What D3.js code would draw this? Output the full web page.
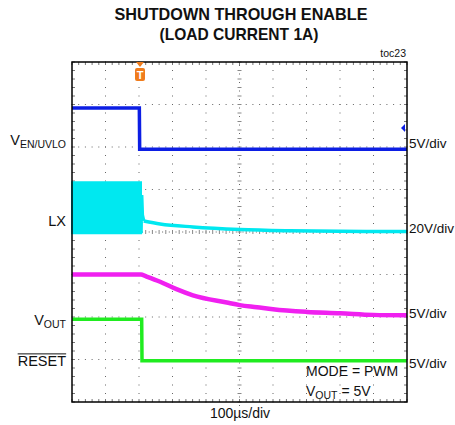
<!DOCTYPE html>
<html><head><meta charset="utf-8">
<script src="https://cdn.jsdelivr.net/npm/d3@7"></script>
<style>
body{margin:0;background:#fff;}
text{font-family:"Liberation Sans",Arial,sans-serif;fill:#111;}
</style></head>
<body><svg id="c" width="455" height="425"></svg>
<script>
// ---- data (time in µs, level in screen divisions, 0 = centre line) ----
const timeDomain = [0, 1000];
const divDomain = [-4, 4];
const enTrace = [[0, 2.92], [201, 2.92], [202, 1.95], [1000, 1.95]];
const lxBurst = [[0, 1.17], [206, 1.17]];           // switching envelope top
const lxBurstLow = -0.03;
const lxTail = [[206, -0.03], [208, 0.87], [210, 0.4], [214, 0.26], [263, 0.19], [361, 0.12], [501, 0.06], [650, 0.03], [800, 0.015], [1000, 0.01]];
const voutTrace = [[0, -1.0], [206, -1.0], [220, -1.04], [263, -1.17], [310, -1.34], [361, -1.49], [462, -1.66], [501, -1.72], [552, -1.77], [600, -1.82], [701, -1.88], [800, -1.91], [899, -1.95], [1000, -1.96]];
const resetTrace = [[0, -2.05], [208, -2.05], [209, -3.03], [1000, -3.03]];
const triggerTime = 203;
const enMarkerLevel = 2.45;
const leftLabels = [{main: "V", sub: "EN/UVLO", level: 2.05}, {main: "LX", sub: "", level: 0.15}, {main: "V", sub: "OUT", level: -2.18}, {main: "RESET", sub: "", level: -3.15, over: true}];
const rightLabels = [{t: "5V/div", level: 1.98}, {t: "20V/div", level: -0.02}, {t: "5V/div", level: -2.03}, {t: "5V/div", level: -3.2}];
const colors = {en: "#0c1ee4", lx: "#00e8f0", vout: "#f020f0", reset: "#20ec20", trig: "#f07c1c"};

const svg = d3.select("#c");
const x = d3.scaleLinear().domain(timeDomain).range([72, 407]);
const y = d3.scaleLinear().domain(divDomain).range([402, 62]);

// title
svg.append("text").attr("x", 241).attr("y", 20).attr("text-anchor", "middle")
  .attr("font-size", 17).attr("font-weight", "bold").attr("textLength", 253).attr("lengthAdjust", "spacingAndGlyphs")
  .text("SHUTDOWN THROUGH ENABLE");
svg.append("text").attr("x", 239).attr("y", 40).attr("text-anchor", "middle")
  .attr("font-size", 17).attr("font-weight", "bold").attr("textLength", 159).attr("lengthAdjust", "spacingAndGlyphs")
  .text("(LOAD CURRENT 1A)");
svg.append("text").attr("x", 406).attr("y", 57).attr("text-anchor", "end").attr("font-size", 10.5).text("toc23");

// grid
const g = svg.append("g");
const majorT = d3.range(100, 1000, 100);
const majorD = d3.range(-3, 4, 1);
const minorT = d3.range(0, 1000.1, 20);
const minorD = d3.range(-4, 4.01, 0.2);
majorT.forEach(t => {
  if (t === 500) return;
  minorD.forEach(d => g.append("rect").attr("x", x(t) - 0.5).attr("y", y(d) - 0.5).attr("width", 1).attr("height", 1).attr("fill", "#666"));
});
majorD.forEach(d => {
  if (d === 0) return;
  minorT.forEach(t => g.append("rect").attr("x", x(t) - 0.5).attr("y", y(d) - 0.5).attr("width", 1).attr("height", 1).attr("fill", "#666"));
});
// centre lines with ticks
minorD.forEach(d => g.append("line").attr("x1", x(500) - 2).attr("x2", x(500) + 2).attr("y1", y(d)).attr("y2", y(d)).attr("stroke", "#888").attr("stroke-width", 1));
minorT.forEach(t => g.append("line").attr("x1", x(t)).attr("x2", x(t)).attr("y1", y(0) - 2).attr("y2", y(0) + 2).attr("stroke", "#888").attr("stroke-width", 1));
minorT.forEach(t => g.append("rect").attr("x", x(t) + 3).attr("y", y(0) - 0.5).attr("width", 1).attr("height", 1).attr("fill", "#666"));
minorD.forEach(d => g.append("rect").attr("x", x(500) - 0.5).attr("y", y(d) + 3).attr("width", 1).attr("height", 1).attr("fill", "#666"));
// edge ticks
minorT.forEach(t => {
  g.append("line").attr("x1", x(t)).attr("x2", x(t)).attr("y1", y(4)).attr("y2", y(4) + 3).attr("stroke", "#777");
  g.append("line").attr("x1", x(t)).attr("x2", x(t)).attr("y1", y(-4)).attr("y2", y(-4) - 3).attr("stroke", "#777");
});
minorD.forEach(d => {
  g.append("line").attr("x1", x(0)).attr("x2", x(0) + 3).attr("y1", y(d)).attr("y2", y(d)).attr("stroke", "#777");
  g.append("line").attr("x1", x(1000)).attr("x2", x(1000) - 3).attr("y1", y(d)).attr("y2", y(d)).attr("stroke", "#777");
});

// traces
const line = d3.line().x(d => x(d[0])).y(d => y(d[1]));
const smooth = d3.line().x(d => x(d[0])).y(d => y(d[1])).curve(d3.curveMonotoneX);
const area = d3.area().x(d => x(d[0])).y0(y(lxBurstLow)).y1(d => y(d[1]));
svg.append("path").attr("d", area(lxBurst)).attr("fill", colors.lx).attr("stroke", colors.lx).attr("stroke-width", 2);
svg.append("path").attr("d", line(lxTail.slice(0, 4)) ).attr("fill", "none").attr("stroke", colors.lx).attr("stroke-width", 3.5);
svg.append("path").attr("d", smooth(lxTail.slice(3))).attr("fill", "none").attr("stroke", colors.lx).attr("stroke-width", 3.5);
svg.append("path").attr("d", line(enTrace)).attr("fill", "none").attr("stroke", colors.en).attr("stroke-width", 3.5);
svg.append("path").attr("d", smooth(voutTrace)).attr("fill", "none").attr("stroke", colors.vout).attr("stroke-width", 4.5);
svg.append("path").attr("d", line(resetTrace)).attr("fill", "none").attr("stroke", colors.reset).attr("stroke-width", 3.5);

// frame
svg.append("rect").attr("x", x(0)).attr("y", y(4)).attr("width", x(1000) - x(0)).attr("height", y(-4) - y(4))
  .attr("fill", "none").attr("stroke", "#000").attr("stroke-width", 1.5);

// trigger marker
const tx = x(triggerTime);
svg.append("path").attr("d", `M${tx - 4},${y(4)} L${tx + 4},${y(4)} L${tx},${y(4) + 5} Z`).attr("fill", colors.trig);
svg.append("rect").attr("x", tx - 5).attr("y", y(4) + 6).attr("width", 10).attr("height", 13).attr("rx", 2).attr("fill", colors.trig);
svg.append("text").attr("x", tx).attr("y", y(4) + 17).attr("text-anchor", "middle").attr("font-size", 11).attr("font-weight", "bold")
  .style("fill", "#fff").text("T");
// EN ground marker
const my = y(enMarkerLevel);
svg.append("path").attr("d", `M${x(1000) - 6},${my} L${x(1000) - 2},${my - 4} L${x(1000) - 2},${my + 4} Z`).attr("fill", colors.en);

// left labels
leftLabels.forEach(l => {
  const t = svg.append("text").attr("x", 66).attr("y", y(l.level)).attr("text-anchor", "end").attr("font-size", 14.5);
  t.append("tspan").text(l.main);
  if (l.sub) t.append("tspan").attr("dy", 3).attr("font-size", 10.5).text(l.sub);
  if (l.over) {
    const bb = t.node().getBBox();
    svg.append("line").attr("x1", bb.x).attr("x2", bb.x + bb.width).attr("y1", bb.y + 1).attr("y2", bb.y + 1).attr("stroke", "#111").attr("stroke-width", 1);
  }
});
// right labels
rightLabels.forEach(l => {
  svg.append("text").attr("x", 409).attr("y", y(l.level)).attr("font-size", 13.5).text(l.t);
});

// annotations
svg.append("text").attr("x", 306).attr("y", 376).attr("font-size", 14).text("MODE = PWM");
const vt = svg.append("text").attr("x", 306).attr("y", 396).attr("font-size", 14);
vt.append("tspan").text("V");
vt.append("tspan").attr("dy", 3).attr("font-size", 10.5).text("OUT");
vt.append("tspan").attr("dy", -3).text(" = 5V");
svg.append("text").attr("x", 240).attr("y", 418).attr("text-anchor", "middle").attr("font-size", 14).text("100µs/div");
</script></body></html>
